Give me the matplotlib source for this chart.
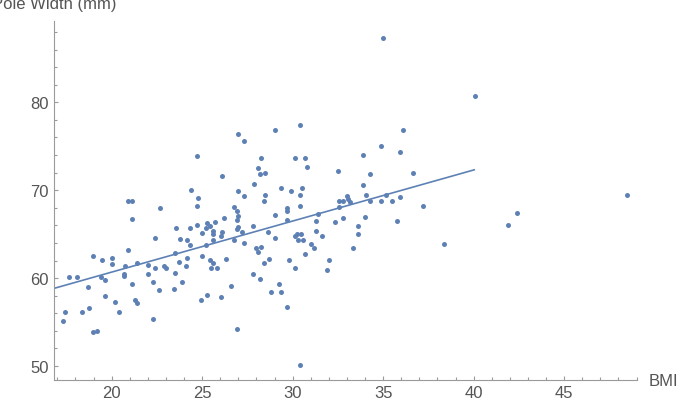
import matplotlib
matplotlib.use('Agg')
import matplotlib.pyplot as plt
from matplotlib.ticker import MultipleLocator

plt.rcParams['font.family'] = ['Liberation Sans', 'DejaVu Sans']

# BMI vs pole width
bmi = [
    24.73, 24.38, 24.78, 24.73, 20.90, 21.12, 22.67, 21.10, 24.73, 23.55,
    24.31, 25.01, 22.39, 23.76, 24.18, 24.31, 20.90, 23.50, 18.98, 20.02,
    24.97, 19.46, 23.70, 20.02, 21.38, 24.18, 20.75, 22.01, 22.39, 22.87,
    23.02, 24.10, 17.62, 18.10, 19.39, 19.61, 20.68, 20.70, 21.99, 23.50,
    21.10, 22.27, 23.90, 18.71, 22.61, 23.43, 19.61, 20.20, 21.30, 21.38,
    24.93, 18.73, 17.42, 18.38, 20.42, 17.29, 22.27, 18.98, 19.19,
    30.39, 29.02, 26.98, 27.33, 28.27, 30.11, 30.66, 30.79, 28.07, 28.21,
    28.47, 26.09, 32.50, 27.86, 29.37, 29.91, 30.51, 26.98, 27.33, 28.47,
    30.39, 28.40, 30.39, 26.77, 26.91, 26.98, 26.91, 29.70, 29.70, 29.02,
    29.70, 26.22, 25.69, 25.28, 25.41, 25.21, 25.61, 25.61, 26.09, 26.02,
    26.98, 26.91, 27.18, 27.81, 28.62, 29.02, 25.61, 25.21, 26.77, 27.33,
    30.11, 30.25, 30.46, 30.31, 30.59, 31.01, 31.19, 31.27, 31.62, 31.27,
    31.41, 32.35, 32.56, 32.76, 32.56, 32.76, 25.41, 25.61, 25.49, 25.82,
    26.30, 27.99, 28.27, 28.07, 28.41, 28.67, 27.79, 28.21, 29.23, 28.82,
    29.37, 29.70, 29.78, 30.11, 30.66, 32.02, 31.88, 26.57, 26.02, 25.28,
    26.91, 30.39,
    36.11, 34.90, 35.91, 33.87, 34.27, 36.66, 33.87, 32.98, 34.07, 35.15,
    33.07, 33.17, 34.27, 34.90, 35.50, 35.91, 37.20, 34.00, 35.76, 33.59,
    33.59, 33.31, 38.36,
    35.01, 40.07, 48.45, 42.39, 41.91,
]
width = [
    73.86, 70.06, 69.08, 68.20, 68.77, 68.77, 67.94, 66.69, 66.08, 65.70,
    65.67, 65.13, 64.56, 64.45, 64.30, 63.73, 63.16, 62.89, 62.48, 62.32,
    62.48, 62.03, 61.87, 61.60, 61.75, 62.32, 61.34, 61.49, 61.18, 61.34,
    61.18, 61.34, 60.09, 60.09, 60.09, 59.78, 60.47, 60.20, 60.47, 60.61,
    59.36, 59.52, 59.52, 58.95, 58.65, 58.79, 57.96, 57.25, 57.54, 57.13,
    57.54, 56.56, 56.14, 56.14, 56.14, 55.15, 55.31, 53.90, 54.02,
    77.45, 76.88, 76.36, 75.63, 73.66, 73.66, 73.66, 72.67, 72.56, 71.84,
    71.99, 71.58, 72.15, 70.74, 70.28, 69.91, 70.28, 69.91, 69.31, 69.45,
    69.45, 68.77, 68.20, 68.05, 67.63, 67.10, 66.64, 67.94, 67.63, 67.21,
    66.64, 66.80, 66.38, 66.23, 65.96, 65.70, 65.39, 64.98, 65.24, 64.82,
    65.81, 65.55, 65.24, 65.96, 65.24, 64.56, 64.30, 63.73, 64.30, 63.99,
    64.82, 64.98, 64.98, 64.30, 64.30, 63.88, 63.46, 65.39, 64.82, 66.50,
    67.33, 66.38, 68.77, 68.77, 68.05, 66.80, 62.03, 61.75, 61.18, 61.18,
    62.17, 63.46, 63.57, 63.00, 61.75, 62.17, 60.50, 59.93, 59.36, 58.38,
    58.38, 56.71, 62.03, 61.18, 62.74, 62.03, 60.92, 59.07, 57.82, 58.11,
    54.18, 50.08,
    76.88, 75.06, 74.38, 73.97, 71.84, 71.99, 70.59, 69.34, 69.45, 69.45,
    68.96, 68.69, 68.77, 68.77, 68.77, 69.19, 68.20, 66.95, 66.53, 65.96,
    64.98, 63.42, 63.85,
    87.32, 80.72, 69.49, 67.37, 66.08,
]

# fitted line: width = intercept + slope * bmi, drawn up to BMI 40
fit_intercept = 49.06
fit_slope = 0.581
fit_range = [16.0, 40.03]

blue = '#5E81B5'
axis_grey = '#9a9a9a'
text_grey = '#555555'

fig = plt.figure(figsize=(6.94, 4.06), dpi=100)
ax = fig.add_axes([0.0782, 0.0623, 0.8401, 0.8842])

ax.plot(bmi, width, 'o', color=blue, ms=3.6, mec='none')
ax.plot(fit_range, [fit_intercept + fit_slope * x for x in fit_range],
        color=blue, lw=1.2)

ax.set_xlim(16.83, 49.04)
ax.set_ylim(48.44, 89.28)

for s in ['top', 'right']:
    ax.spines[s].set_visible(False)
for s in ['left', 'bottom']:
    ax.spines[s].set_color(axis_grey)
    ax.spines[s].set_linewidth(0.8)

ax.xaxis.set_major_locator(MultipleLocator(5))
ax.xaxis.set_minor_locator(MultipleLocator(1))
ax.yaxis.set_major_locator(MultipleLocator(10))
ax.yaxis.set_minor_locator(MultipleLocator(2))
ax.tick_params(which='both', direction='in', color=axis_grey,
               labelcolor=text_grey, labelsize=12, width=0.8)
ax.tick_params(which='major', length=3)
ax.tick_params(which='minor', length=2)
ax.tick_params(axis='x', pad=3.5)
ax.tick_params(axis='y', pad=4)

fig.text(649 / 694, 1 - 381.7 / 406, 'BMI', ha='left', va='center',
         fontsize=12, color=text_grey)
fig.text(54.3 / 694, 1 - 8.5 / 406, 'Pole Width (mm)', ha='center',
         va='baseline', fontsize=12, color=text_grey)

fig.savefig('out.png', dpi=100)
